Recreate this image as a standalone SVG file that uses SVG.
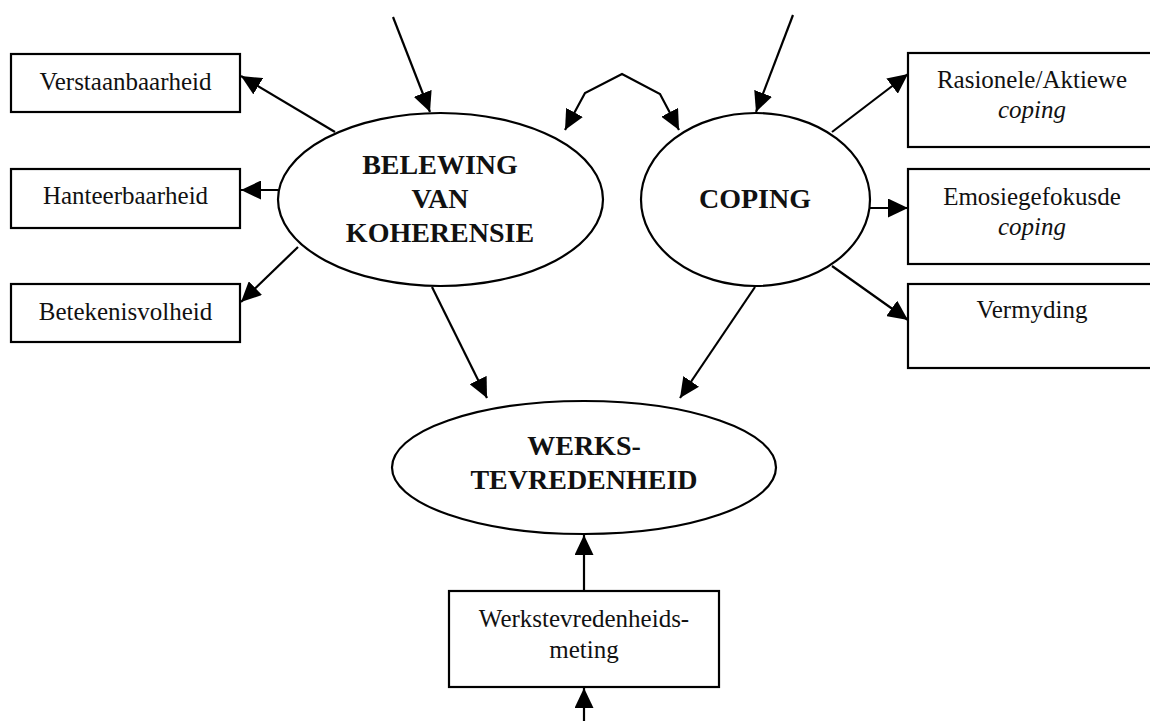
<svg xmlns="http://www.w3.org/2000/svg" width="1150" height="721" viewBox="0 0 1150 721">
<defs>
<style>
.box{fill:#fff;stroke:#000;stroke-width:2.2}
.ell{fill:#fff;stroke:#000;stroke-width:2.2}
.lbl{font-family:"Liberation Serif","Times New Roman",serif;font-size:25px;fill:#111;text-anchor:middle}
.it{font-style:italic}
.big{font-family:"Liberation Serif","Times New Roman",serif;font-size:28px;font-weight:bold;fill:#111;text-anchor:middle}
.con{fill:none;stroke:#000;stroke-width:2.2;marker-end:url(#ah)}
</style>
<marker id="ah" viewBox="0 0 20 19" refX="20" refY="9.5" markerWidth="20" markerHeight="19" markerUnits="userSpaceOnUse" orient="auto-start-reverse">
<path d="M0,0 L20,9.5 L0,19 z" fill="#000"/>
</marker>
</defs>
<rect width="1150" height="721" fill="#fff"/>

<g id="connectors">
<line class="con" x1="393" y1="17" x2="430" y2="112"/>
<line class="con" x1="793" y1="15" x2="756" y2="112"/>
<path class="con" d="M565,130 L585,93 L622,74 L660,94 L679,130" style="marker-start:url(#ah)"/>
<line class="con" x1="335" y1="132" x2="241" y2="76"/>
<line class="con" x1="278" y1="190" x2="241" y2="190"/>
<line class="con" x1="298" y1="247" x2="241" y2="302"/>
<line class="con" x1="832" y1="132" x2="908" y2="74"/>
<line class="con" x1="870" y1="208" x2="908" y2="208"/>
<line class="con" x1="832" y1="266" x2="908" y2="320"/>
<line class="con" x1="432" y1="287" x2="487" y2="398"/>
<line class="con" x1="755" y1="287" x2="680" y2="398"/>
<line class="con" x1="584" y1="591" x2="584" y2="535"/>
<line class="con" x1="584" y1="721" x2="584" y2="688"/>
</g>

<g id="verstaanbaarheid">
<rect class="box" x="11" y="54" width="229" height="58"/>
<text class="lbl" x="125.5" y="90">Verstaanbaarheid</text>
</g>
<g id="hanteerbaarheid">
<rect class="box" x="11" y="169" width="229" height="59"/>
<text class="lbl" x="125.5" y="204">Hanteerbaarheid</text>
</g>
<g id="betekenisvolheid">
<rect class="box" x="11" y="284" width="229" height="58"/>
<text class="lbl" x="125.5" y="320">Betekenisvolheid</text>
</g>

<g id="belewing">
<ellipse class="ell" cx="440.5" cy="199.5" rx="162.5" ry="86.5"/>
<text class="big" x="440" y="174">BELEWING</text>
<text class="big" x="440" y="208">VAN</text>
<text class="big" x="440" y="242">KOHERENSIE</text>
</g>

<g id="coping">
<ellipse class="ell" cx="755.5" cy="199.5" rx="114.5" ry="86.5"/>
<text class="big" x="755" y="208">COPING</text>
</g>

<g id="rasionele">
<rect class="box" x="908" y="53" width="252" height="94"/>
<text class="lbl" x="1032" y="88">Rasionele/Aktiewe</text>
<text class="lbl it" x="1032" y="118">coping</text>
</g>
<g id="emosie">
<rect class="box" x="908" y="169" width="252" height="95"/>
<text class="lbl" x="1032" y="205">Emosiegefokusde</text>
<text class="lbl it" x="1032" y="235">coping</text>
</g>
<g id="vermyding">
<rect class="box" x="908" y="284" width="252" height="84"/>
<text class="lbl" x="1032" y="318">Vermyding</text>
</g>

<g id="werkstevredenheid">
<ellipse class="ell" cx="584" cy="467.5" rx="192" ry="66.5"/>
<text class="big" x="584" y="455">WERKS-</text>
<text class="big" x="584" y="489">TEVREDENHEID</text>
</g>

<g id="meting">
<rect class="box" x="449" y="591" width="270" height="96"/>
<text class="lbl" x="584" y="627">Werkstevredenheids-</text>
<text class="lbl" x="584" y="658">meting</text>
</g>
</svg>
